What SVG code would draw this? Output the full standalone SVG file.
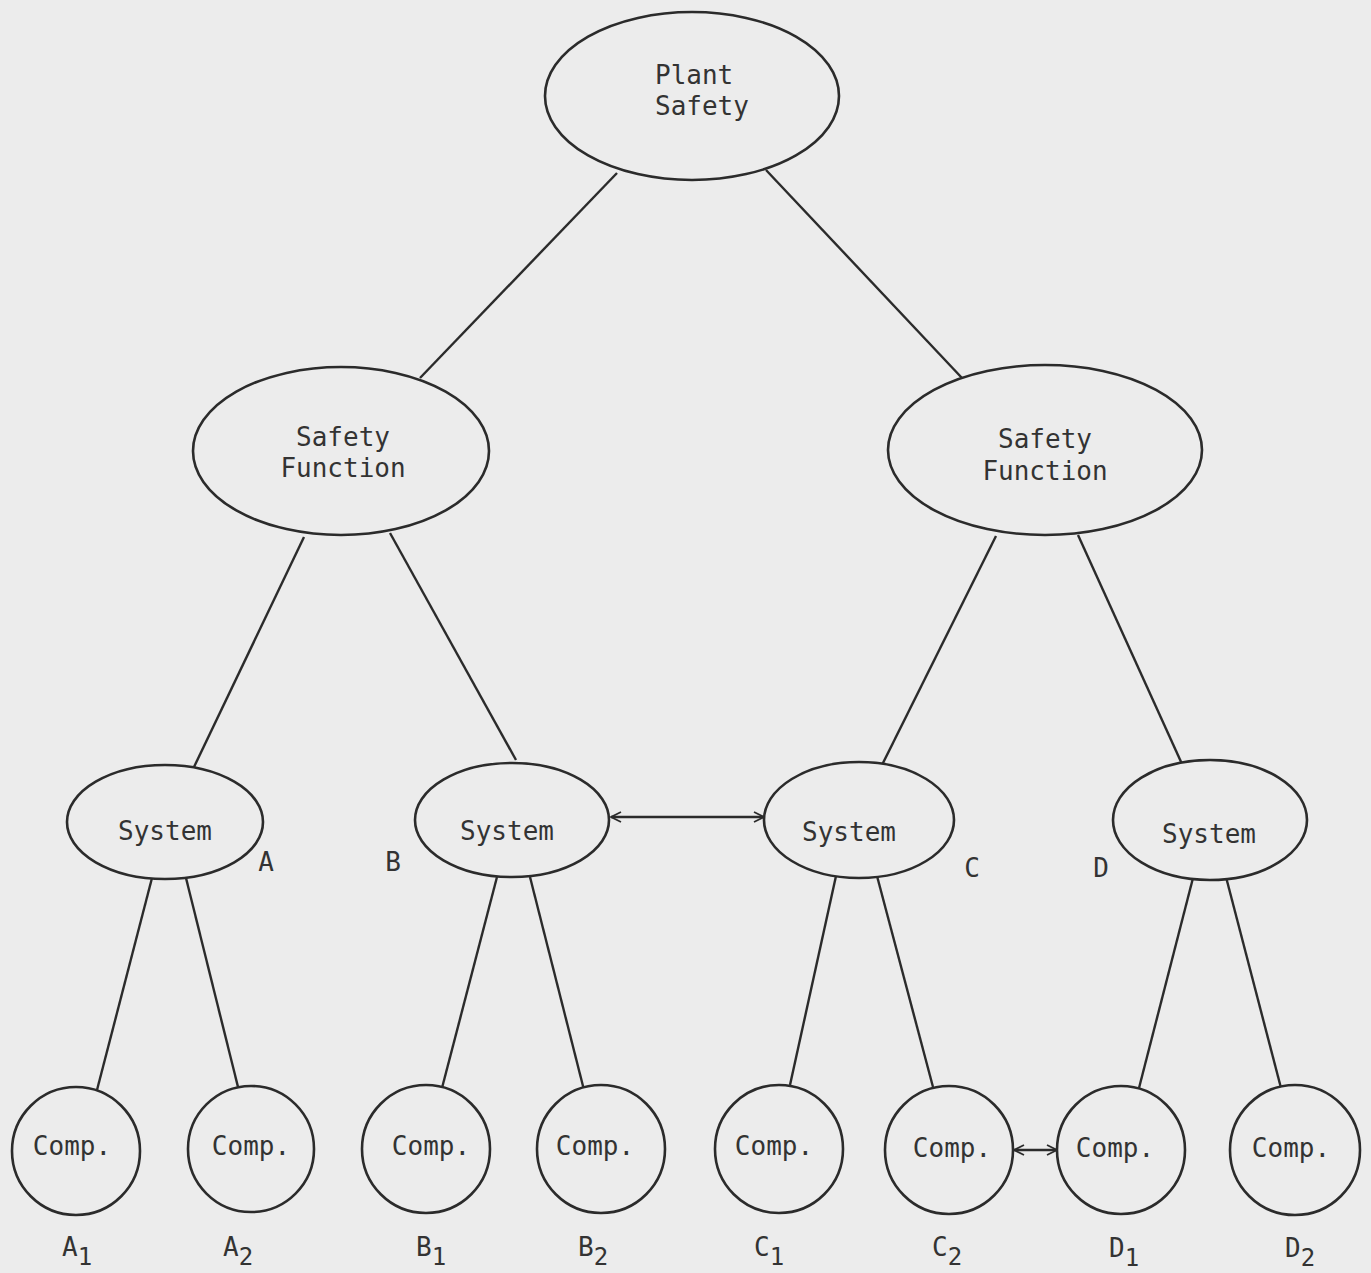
<svg xmlns="http://www.w3.org/2000/svg" width="1371" height="1273" viewBox="0 0 1371 1273">
  <defs>
    <style>
      .node { fill: #ececec; stroke: #2b2b2b; stroke-width: 2.6; }
      .edge { stroke: #2b2b2b; stroke-width: 2.4; fill: none; }
      .lbl { font-family: "DejaVu Sans Mono", "Liberation Mono", monospace; font-size: 26px; fill: #333; }
      .mid { text-anchor: middle; }
      .sub { font-size: 24px; }
    </style>
    <marker id="head" viewBox="0 0 12 12" refX="11" refY="6" markerWidth="12" markerHeight="12" markerUnits="userSpaceOnUse" orient="auto-start-reverse">
      <path d="M1,1 L11,6 L1,11" fill="none" stroke="#2b2b2b" stroke-width="1.8"/>
    </marker>
  </defs>

  <rect width="1371" height="1273" fill="#ececec"/>

  <!-- tree connectors -->
  <g id="connectors">
    <line class="edge" x1="617" y1="173" x2="420" y2="378"/>
    <line class="edge" x1="766" y1="170" x2="962" y2="378"/>
    <line class="edge" x1="304" y1="537" x2="194" y2="767"/>
    <line class="edge" x1="390" y1="533" x2="516" y2="760"/>
    <line class="edge" x1="996" y1="536" x2="882" y2="765"/>
    <line class="edge" x1="1078" y1="535" x2="1182" y2="764"/>
    <line class="edge" x1="152" y1="878" x2="97" y2="1090"/>
    <line class="edge" x1="186" y1="878" x2="238" y2="1087"/>
    <line class="edge" x1="497" y1="877" x2="442" y2="1088"/>
    <line class="edge" x1="530" y1="877" x2="584" y2="1090"/>
    <line class="edge" x1="836" y1="876" x2="790" y2="1085"/>
    <line class="edge" x1="877" y1="876" x2="933" y2="1087"/>
    <line class="edge" x1="1193" y1="878" x2="1139" y2="1088"/>
    <line class="edge" x1="1226" y1="877" x2="1281" y2="1088"/>
    <!-- interactions -->
    <line class="edge" x1="611" y1="817" x2="764" y2="817" stroke-width="2" marker-start="url(#head)" marker-end="url(#head)"/>
    <line class="edge" x1="1014" y1="1150" x2="1057" y2="1150" stroke-width="2" marker-start="url(#head)" marker-end="url(#head)"/>
  </g>

  <g id="plant-safety">
    <ellipse class="node" cx="692" cy="96" rx="147" ry="84"/>
    <text class="lbl" x="655" y="84">Plant</text>
    <text class="lbl" x="655" y="115">Safety</text>
  </g>

  <g id="safety-function-left">
    <ellipse class="node" cx="341" cy="451" rx="148" ry="84"/>
    <text class="lbl mid" x="343" y="446">Safety</text>
    <text class="lbl mid" x="343" y="477">Function</text>
  </g>

  <g id="safety-function-right">
    <ellipse class="node" cx="1045" cy="450" rx="157" ry="85"/>
    <text class="lbl mid" x="1045" y="448">Safety</text>
    <text class="lbl mid" x="1045" y="480">Function</text>
  </g>

  <g id="system-a">
    <ellipse class="node" cx="165" cy="822" rx="98" ry="57"/>
    <text class="lbl mid" x="165" y="840">System</text>
    <text class="lbl mid" x="266" y="871">A</text>
  </g>
  <g id="system-b">
    <ellipse class="node" cx="512" cy="820" rx="97" ry="57"/>
    <text class="lbl mid" x="507" y="840">System</text>
    <text class="lbl mid" x="393" y="871">B</text>
  </g>
  <g id="system-c">
    <ellipse class="node" cx="859" cy="820" rx="95" ry="58"/>
    <text class="lbl mid" x="849" y="841">System</text>
    <text class="lbl mid" x="972" y="877">C</text>
  </g>
  <g id="system-d">
    <ellipse class="node" cx="1210" cy="820" rx="97" ry="60"/>
    <text class="lbl mid" x="1209" y="843">System</text>
    <text class="lbl mid" x="1101" y="877">D</text>
  </g>

  <g id="comp-a1">
    <circle class="node" cx="76" cy="1151" r="64"/>
    <text class="lbl mid" x="72" y="1155">Comp.</text>
    <text class="lbl" x="62" y="1256">A<tspan class="sub" dy="9">1</tspan></text>
  </g>
  <g id="comp-a2">
    <circle class="node" cx="251" cy="1149" r="63"/>
    <text class="lbl mid" x="251" y="1155">Comp.</text>
    <text class="lbl" x="223" y="1256">A<tspan class="sub" dy="9">2</tspan></text>
  </g>
  <g id="comp-b1">
    <circle class="node" cx="426" cy="1149" r="64"/>
    <text class="lbl mid" x="431" y="1155">Comp.</text>
    <text class="lbl" x="416" y="1256">B<tspan class="sub" dy="9">1</tspan></text>
  </g>
  <g id="comp-b2">
    <circle class="node" cx="601" cy="1149" r="64"/>
    <text class="lbl mid" x="595" y="1155">Comp.</text>
    <text class="lbl" x="578" y="1256">B<tspan class="sub" dy="9">2</tspan></text>
  </g>
  <g id="comp-c1">
    <circle class="node" cx="779" cy="1149" r="64"/>
    <text class="lbl mid" x="774" y="1155">Comp.</text>
    <text class="lbl" x="754" y="1256">C<tspan class="sub" dy="9">1</tspan></text>
  </g>
  <g id="comp-c2">
    <circle class="node" cx="949" cy="1150" r="64"/>
    <text class="lbl mid" x="952" y="1157">Comp.</text>
    <text class="lbl" x="932" y="1256">C<tspan class="sub" dy="9">2</tspan></text>
  </g>
  <g id="comp-d1">
    <circle class="node" cx="1121" cy="1150" r="64"/>
    <text class="lbl mid" x="1115" y="1157">Comp.</text>
    <text class="lbl" x="1109" y="1257">D<tspan class="sub" dy="9">1</tspan></text>
  </g>
  <g id="comp-d2">
    <circle class="node" cx="1295" cy="1150" r="65"/>
    <text class="lbl mid" x="1291" y="1157">Comp.</text>
    <text class="lbl" x="1285" y="1257">D<tspan class="sub" dy="9">2</tspan></text>
  </g>
</svg>
